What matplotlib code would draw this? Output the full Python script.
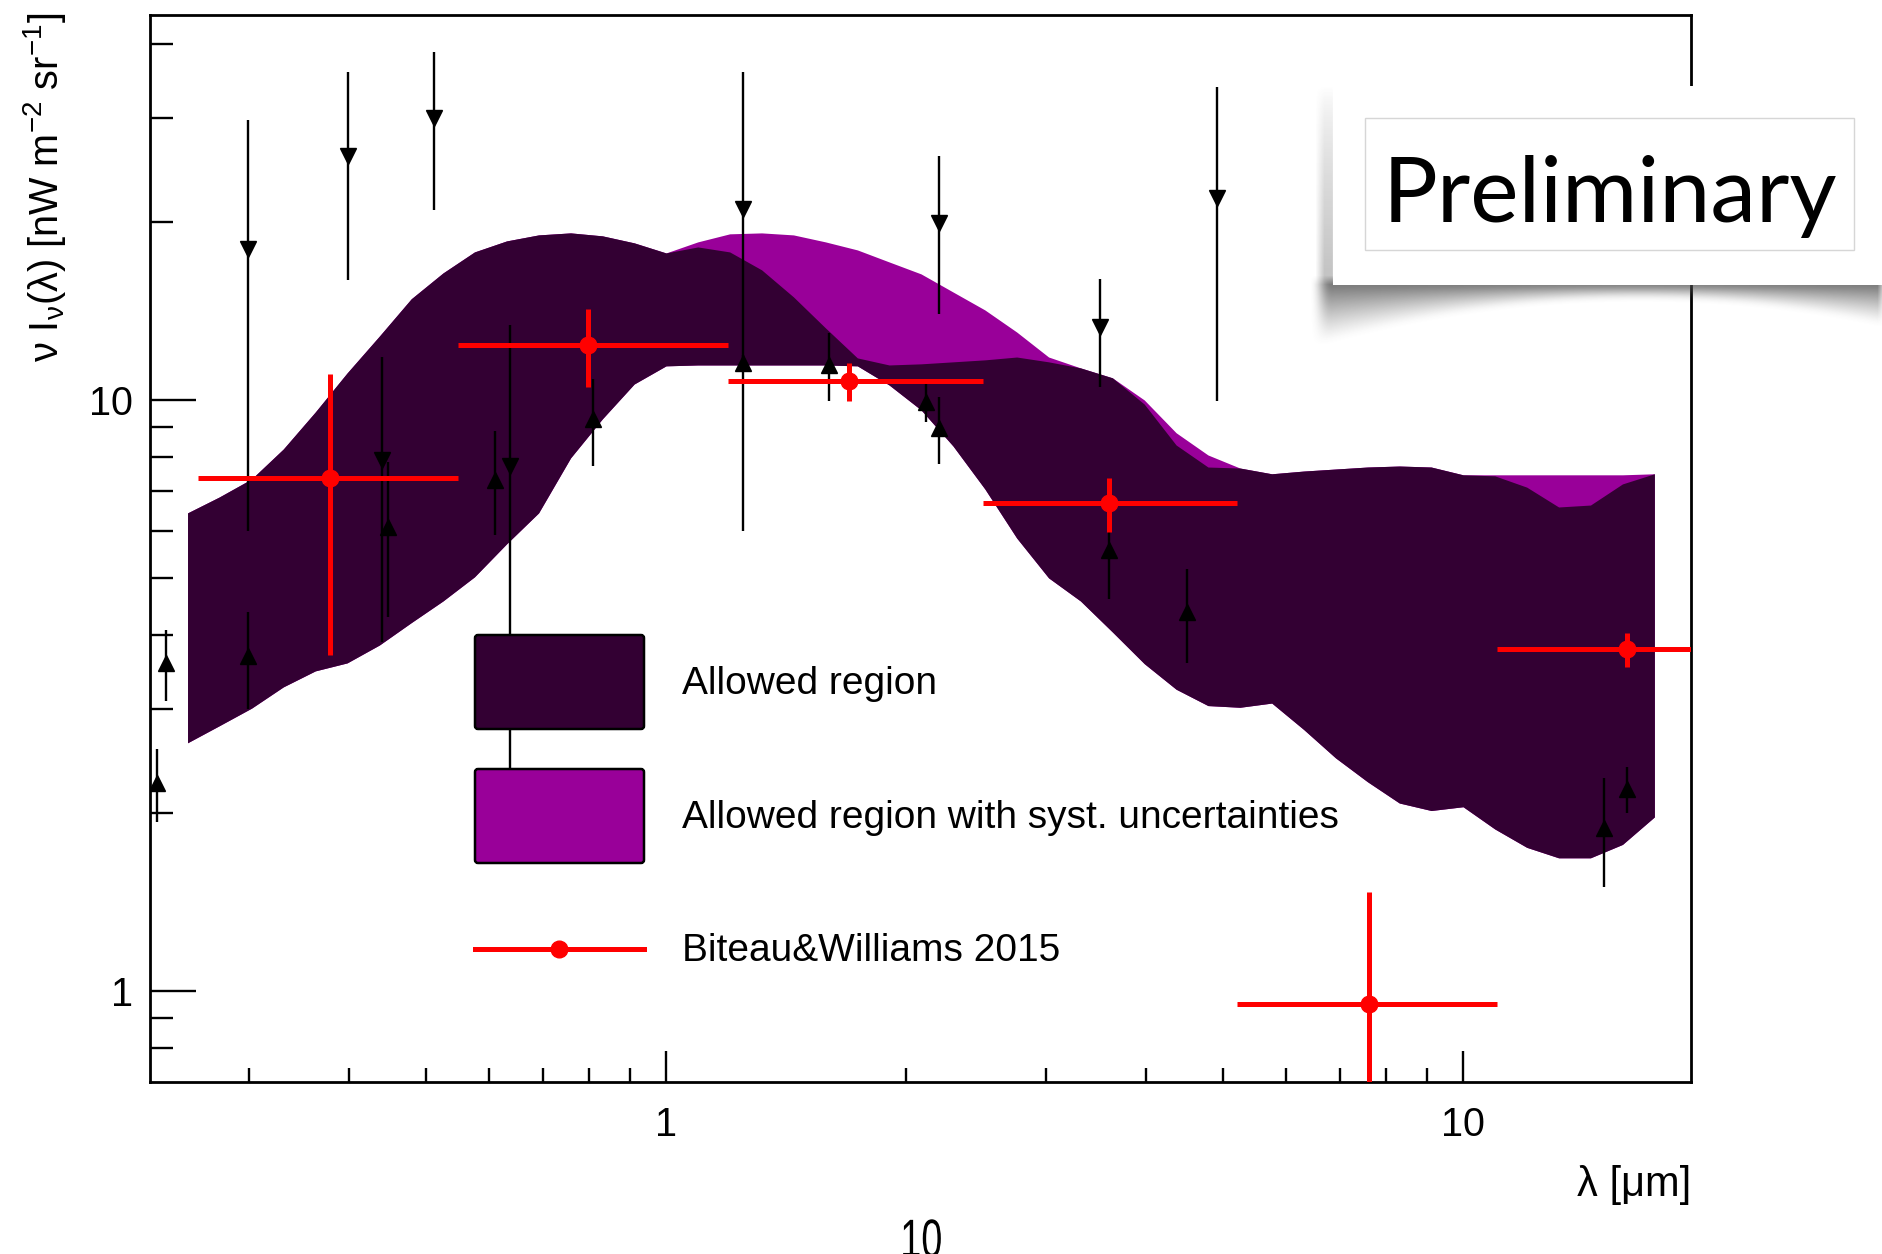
"""
EBL allowed region vs. Biteau & Williams 2015 data points.

Rebuilds a ROOT-style log-log plot of nu I_nu(lambda) with the allowed
region bands, upper / lower limits and a "Preliminary" stamp.
"""

import numpy as np
import matplotlib

matplotlib.use("Agg")

import matplotlib.pyplot as plt
from matplotlib.font_manager import FontProperties
from matplotlib.patches import FancyBboxPatch, PathPatch, Rectangle
from matplotlib.textpath import TextPath
from matplotlib.ticker import FixedFormatter, FixedLocator, NullFormatter
from matplotlib.transforms import Affine2D

# Canvas size in pixels (dpi 100)
W, H = 1882, 1254

# Allowed region bands (wavelength in um, nu I_nu in nW m^-2 sr^-1)
band_wl = [0.251, 0.275, 0.302, 0.331, 0.363, 0.398, 0.437, 0.479, 0.525,
           0.575, 0.631, 0.692, 0.759, 0.832, 0.912, 1.000, 1.096, 1.202,
           1.318, 1.445, 1.585, 1.738, 1.905, 2.089, 2.291, 2.512, 2.754,
           3.020, 3.311, 3.631, 3.981, 4.365, 4.786, 5.248, 5.754, 6.310,
           6.918, 7.586, 8.318, 9.120, 10.00, 10.96, 12.02, 13.18, 14.45,
           15.85, 17.38]
allowed_hi = [6.44, 6.85, 7.35, 8.26, 9.54, 11.11, 12.83, 14.83, 16.40,
              17.80, 18.58, 19.02, 19.17, 18.95, 18.44, 17.73, 18.15, 17.80,
              16.60, 14.94, 13.24, 11.78, 11.46, 11.51, 11.60, 11.69, 11.82,
              11.60, 11.33, 10.90, 9.84, 8.39, 7.70, 7.67, 7.50, 7.58,
              7.64, 7.70, 7.73, 7.70, 7.47, 7.44, 7.12, 6.59, 6.64,
              7.21, 7.50]
allowed_lo = [2.63, 2.81, 3.01, 3.27, 3.48, 3.59, 3.85, 4.20, 4.57,
              5.02, 5.71, 6.44, 7.98, 9.29, 10.64, 11.42, 11.46, 11.46,
              11.46, 11.46, 11.46, 11.42, 10.60, 9.62, 8.36, 7.07, 5.84,
              5.00, 4.57, 4.05, 3.58, 3.24, 3.04, 3.02, 3.07, 2.77,
              2.48, 2.26, 2.08, 2.02, 2.05, 1.88, 1.75, 1.68, 1.68,
              1.77, 1.97]
syst_hi = [6.44, 6.85, 7.35, 8.26, 9.54, 11.11, 12.83, 14.83, 16.40,
           17.80, 18.58, 19.02, 19.17, 18.95, 18.44, 17.73, 18.51, 19.10,
           19.17, 19.02, 18.51, 17.94, 17.12, 16.34, 15.23, 14.20, 13.03,
           11.82, 11.33, 10.90, 10.00, 8.80, 8.07, 7.67, 7.50, 7.58,
           7.64, 7.70, 7.73, 7.70, 7.47, 7.47, 7.47, 7.47, 7.47,
           7.47, 7.50]

# Biteau & Williams 2015
bw_wl = [0.379, 0.798, 1.697, 3.595, 7.62, 16.06]
bw_wl_lo = [0.259, 0.548, 1.196, 2.499, 5.205, 11.03]
bw_wl_hi = [0.548, 1.196, 2.499, 5.205, 11.03, 23.4]
bw_val = [7.38, 12.39, 10.77, 6.70, 0.951, 3.79]
bw_lo = [3.70, 10.50, 9.96, 5.98, 0.50, 3.53]
bw_hi = [11.07, 14.26, 11.55, 7.38, 1.47, 4.04]

# Upper limits (down triangles)
ul_wl = [0.299, 0.399, 0.440, 0.511, 0.637, 1.25, 2.20, 3.50, 4.91]
ul_val = [18.0, 25.9, 7.91, 29.97, 7.72, 21.05, 19.95, 13.3, 22.0]
ul_lo = [6.00, 15.96, 3.90, 20.98, 2.10, 6.00, 13.95, 10.51, 9.97]
ul_hi = [29.8, 35.9, 11.82, 38.8, 13.39, 35.9, 25.9, 16.0, 33.9]

# Lower limits (up triangles)
ll_wl = [0.230, 0.236, 0.299, 0.448, 0.610, 0.810, 1.25, 1.60, 2.12,
         2.20, 3.60, 4.51, 15.03, 16.06]
ll_val = [2.25, 3.59, 3.69, 6.10, 7.32, 9.27, 11.55, 11.46, 9.93,
          8.96, 5.57, 4.38, 1.89, 2.20]
ll_lo = [1.93, 3.10, 3.00, 4.29, 5.91, 7.72, 11.2, 9.97, 9.19,
         7.78, 4.60, 3.59, 1.50, 2.00]
ll_hi = [2.57, 4.08, 4.38, 7.85, 8.86, 10.83, 11.9, 12.98, 10.69,
         10.13, 5.99, 5.17, 2.29, 2.39]

DARK = "#330033"
PURPLE = "#990099"
RED = "#ff0000"

plt.rcParams["font.family"] = ["Liberation Sans", "DejaVu Sans"]
plt.rcParams["mathtext.default"] = "regular"


def asym(val, lo, hi):
    """Turn (value, low, high) lists into an asymmetric error array."""
    val = np.asarray(val)
    return [val - np.asarray(lo), np.asarray(hi) - val]


def fx(px):
    return px / W


def fy(py):
    return 1 - py / H


fig = plt.figure(figsize=(W / 100, H / 100), dpi=100)

# Main axes: frame from (150, 15) to (1691, 1082) in pixels
ax = fig.add_axes([fx(150), fy(1082), (1691 - 150) / W, (1082 - 15) / H])
ax.set_xscale("log")
ax.set_yscale("log")

ax.fill_between(band_wl, allowed_lo, syst_hi, color=PURPLE, lw=0, zorder=1)
ax.fill_between(band_wl, allowed_lo, allowed_hi, color=DARK, lw=0, zorder=2)

ax.errorbar(ul_wl, ul_val, yerr=asym(ul_val, ul_lo, ul_hi), fmt="v",
            color="black", ms=11, lw=1.7, capsize=0, zorder=3)
ax.errorbar(ll_wl, ll_val, yerr=asym(ll_val, ll_lo, ll_hi), fmt="^",
            color="black", ms=11, lw=1.7, capsize=0, zorder=3)
ax.errorbar(bw_wl, bw_val, xerr=asym(bw_wl, bw_wl_lo, bw_wl_hi),
            yerr=asym(bw_val, bw_lo, bw_hi), fmt="o", color=RED,
            ms=12, lw=3.6, capsize=0, zorder=4)

ax.set_xlim(0.2252, 19.32)
ax.set_ylim(0.7015, 44.8)

ax.xaxis.set_major_locator(FixedLocator([1, 10]))
ax.xaxis.set_major_formatter(FixedFormatter(["1", "10"]))
ax.xaxis.set_minor_locator(FixedLocator([0.3, 0.4, 0.5, 0.6, 0.7, 0.8, 0.9,
                                         2, 3, 4, 5, 6, 7, 8, 9]))
ax.xaxis.set_minor_formatter(NullFormatter())
ax.yaxis.set_major_locator(FixedLocator([1, 10]))
ax.yaxis.set_major_formatter(FixedFormatter(["1", "10"]))
ax.yaxis.set_minor_locator(FixedLocator([0.8, 0.9, 2, 3, 4, 5, 6, 7, 8, 9,
                                         20, 30, 40]))
ax.yaxis.set_minor_formatter(NullFormatter())

ax.tick_params(which="both", direction="in", top=False, right=False,
               width=1.7, labelsize=28.5, color="black")
ax.xaxis.set_tick_params(which="major", length=22, pad=17)
ax.xaxis.set_tick_params(which="minor", length=10)
ax.yaxis.set_tick_params(which="major", length=33, pad=12)
ax.yaxis.set_tick_params(which="minor", length=16.5)
for sp in ax.spines.values():
    sp.set_linewidth(2.0)

# Axis titles (ROOT style, placed at the frame ends)
fig.text(fx(45), fy(13), "ν I$_{ν}$(λ) [nW m$^{-2}$ sr$^{-1}$]",
         rotation=90, ha="center", va="top", fontsize=28.5)
fig.text(fx(1691), fy(1185), "λ [μm]", ha="right", va="center", fontsize=30)

# Overlay in pixel coordinates for legend and stamp
ov = fig.add_axes([0, 0, 1, 1])
ov.set_zorder(5)
ov.axis("off")

# Stray slide page number, narrow glyphs, cut by the bottom edge
num = TextPath((0, 0), "10", size=54, prop=FontProperties(family="Liberation Sans"))
num_ext = num.get_extents()
num_tf = (Affine2D().translate(-num_ext.x0 - num_ext.width / 2, 0)
          .scale(0.7, -1.0).translate(922, 1257) + ov.transData)
ov.add_patch(PathPatch(num, transform=num_tf, fc="black", ec="none", zorder=2))

# Legend
ov.add_patch(FancyBboxPatch((475, 635), 169, 94, boxstyle="round,pad=0,rounding_size=3",
                            fc=DARK, ec="black", lw=1.8, zorder=2))
ov.add_patch(FancyBboxPatch((475, 769), 169, 94, boxstyle="round,pad=0,rounding_size=3",
                            fc=PURPLE, ec="black", lw=1.8, zorder=2))
ov.plot([475, 644], [949, 949], color=RED, lw=3.6, zorder=2)
ov.plot([559], [949], "o", color=RED, ms=12, zorder=3)
leg_labels = ["Allowed region", "Allowed region with syst. uncertainties",
              "Biteau&Williams 2015"]
for lab, yc in zip(leg_labels, [684, 818, 951]):
    ov.text(682, yc, lab, ha="left", va="center", fontsize=28)

# "Preliminary" stamp with a curled drop shadow
sx0, sx1, sy0, sy1 = 1290, 1882, 70, 360
xx, yy = np.meshgrid(np.arange(sx0, sx1) + 0.5, np.arange(sy0, sy1) + 0.5)
depth = np.clip(14 + 46 * ((xx - 1640) / 320) ** 2, 14, 62)
below = (yy - 285) / depth
a_bot = np.where((yy >= 280) & (below <= 1),
                 0.75 * (1 - np.clip(below, 0, 1)) ** 1.2, 0)
a_bot *= np.clip((xx - 1314) / 14, 0, 1)
a_left = np.where((xx >= 1320) & (xx < 1336) & (yy > 88) & (yy < 290),
                  0.35 * np.clip((yy - 88) / 200, 0, 1) ** 0.7, 0)
alpha = np.maximum(a_bot, a_left)
kern = np.ones(9) / 9
alpha = np.apply_along_axis(lambda r: np.convolve(r, kern, mode="same"), 1, alpha)
alpha = np.apply_along_axis(lambda c: np.convolve(c, kern, mode="same"), 0, alpha)
shadow = np.zeros(alpha.shape + (4,))
shadow[..., :3] = 0.3
shadow[..., 3] = alpha
ov.imshow(shadow, extent=(sx0, sx1, sy1, sy0), aspect="auto",
          interpolation="bilinear", zorder=1)
ov.set_xlim(0, W)
ov.set_ylim(H, 0)

ov.add_patch(Rectangle((1333, 86), 600, 199, fc="white", ec="none", zorder=2))
ov.add_patch(Rectangle((1365, 118), 489, 132, fc="none", ec="#d6d6d6",
                       lw=1.0, zorder=3))
stamp = ov.text(1383, 222, "Preliminary", ha="left", va="baseline",
                fontsize=70, family=["Lato", "DejaVu Sans"], zorder=4)
fig.canvas.draw()
bb = stamp.get_window_extent()
stamp.set_fontsize(70 * 455 / bb.width)

fig.savefig("out.png", dpi=100)
plt.close(fig)
